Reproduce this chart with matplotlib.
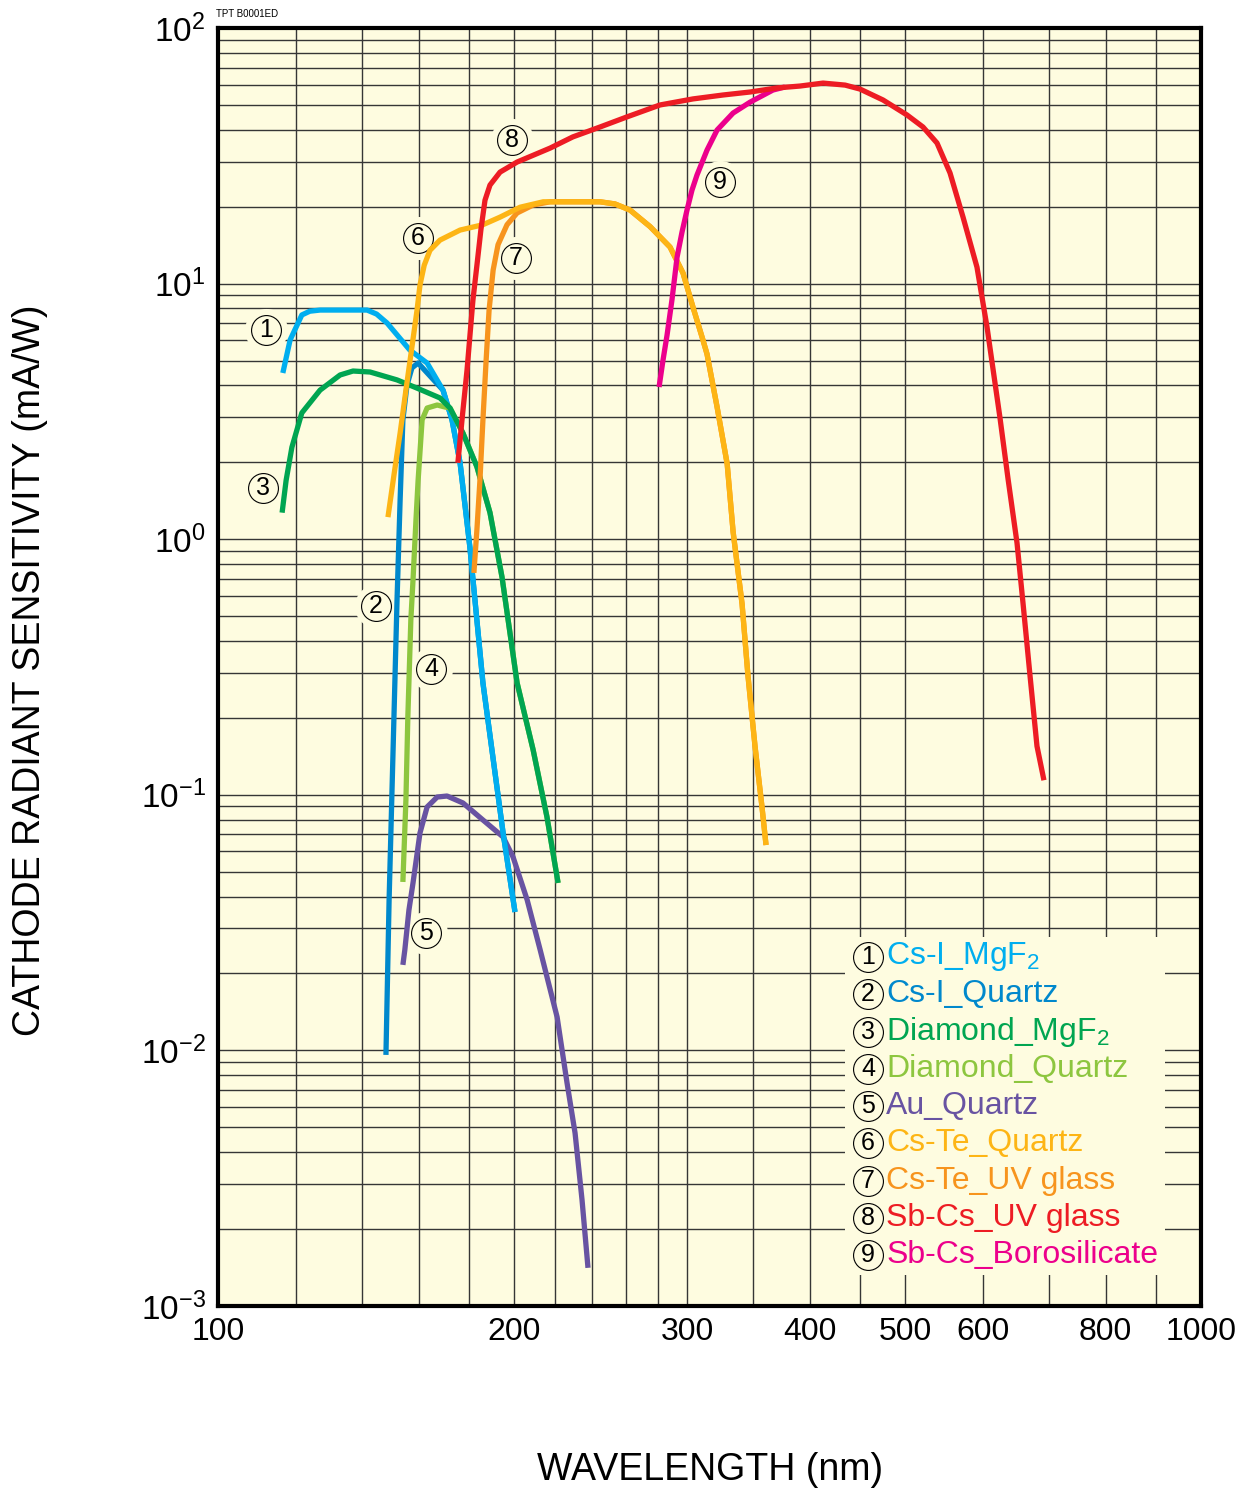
import numpy as np
import matplotlib
matplotlib.use("Agg")
import matplotlib.pyplot as plt
from matplotlib.patches import Rectangle
from matplotlib.ticker import FixedLocator, NullFormatter

plt.rcParams['font.family'] = ['Liberation Sans', 'DejaVu Sans']
plt.rcParams['mathtext.fontset'] = 'custom'
plt.rcParams['mathtext.rm'] = 'Liberation Sans'
plt.rcParams['mathtext.it'] = 'Liberation Sans'

CREAM = '#FEFCE0'

# ---- data (wavelength nm, radiant sensitivity mA/W) ----
wl1 = [116.4, 118.4, 121.7, 124.0, 127.0, 141.8, 145.0, 148.6, 156.7, 163.2, 169.4, 173.0, 176.3, 180.4, 186.0, 195.0, 200.5]
s1 = [4.47, 6.02, 7.54, 7.80, 7.88, 7.88, 7.60, 7.01, 5.50, 4.89, 3.83, 2.93, 1.99, 0.93, 0.274, 0.0709, 0.0348]

wl2 = [148.2, 149.3, 150.7, 152.1, 153.2, 154.2, 155.7, 157.5, 159.8] + wl1[10:]
s2 = [0.0096, 0.0388, 0.150, 0.578, 1.42, 2.93, 4.01, 4.68, 4.89] + s1[10:]

wl3 = [116.2, 117.3, 118.9, 121.7, 127.0, 133.1, 137.2, 142.8, 152.1, 159.4, 168.2, 172.2, 177.5, 183.4, 189.1, 194.5, 201.5, 209.2, 216.1, 221.8]
s3 = [1.27, 1.70, 2.29, 3.12, 3.83, 4.39, 4.55, 4.51, 4.20, 3.90, 3.57, 3.26, 2.60, 1.92, 1.27, 0.711, 0.274, 0.150, 0.0819, 0.0452]

wl4 = [154.2, 155.3, 156.0, 157.1, 157.9, 159.0, 159.8, 161.3, 163.2, 167.1, 170.2] + wl3[11:]
s4 = [0.0456, 0.0955, 0.2016, 0.483, 0.692, 1.19, 1.70, 2.93, 3.26, 3.35, 3.29] + s3[11:]

wl5 = [154.2, 154.9, 156.4, 157.9, 160.5, 163.2, 167.1, 171.0, 177.5, 186.0, 195.0, 199.6, 206.3, 212.7, 221.3, 226.5, 230.8, 234.6, 237.9]
s5 = [0.0216, 0.0247, 0.0354, 0.0452, 0.0709, 0.0896, 0.098, 0.0989, 0.0929, 0.0797, 0.0684, 0.0571, 0.0388, 0.0247, 0.0135, 0.00746, 0.00475, 0.0026, 0.00141]

wl6 = [148.9, 151.0, 153.2, 155.3, 157.5, 159.4, 160.5, 162.1, 164.3, 168.2, 176.3, 186.0, 193.6, 202.9, 214.2, 226.5,
       244.7, 253.4, 262.5, 275.2, 288.3, 297.2, 304.2, 311.4, 314.4, 321.9, 329.6, 334.2, 341.3, 346.0, 351.8, 357.6, 361.0]
s6 = [1.22, 1.78, 2.60, 3.83, 5.65, 7.88, 9.87, 11.8, 13.5, 14.8, 16.2, 17.0, 18.2, 19.9, 20.9, 20.9,
      20.9, 20.5, 19.4, 16.7, 13.9, 11.0, 8.10, 6.02, 5.30, 3.29, 1.97, 1.07, 0.558, 0.294, 0.155, 0.0896, 0.0636]

wl7 = [182.1, 183.4, 184.7, 186.0, 187.4, 188.7, 190.5, 192.7, 196.8, 201.5, 209.2, 217.7] + wl6[15:]
s7 = [0.738, 1.09, 1.70, 2.93, 5.02, 7.88, 11.3, 14.2, 17.0, 18.9, 20.3, 20.9] + s6[15:]

wl8 = [175.4, 177.1, 179.2, 181.7, 183.4, 185.1, 186.9, 189.1, 193.6, 201.5, 217.7, 229.6, 244.7, 260.6, 281.6,
       304.2, 326.4, 347.8, 370.5, 391.0, 412.6, 434.5, 449.9, 474.8, 502.2, 521.4, 538.8, 555.5, 572.7, 591.7,
       605.8, 624.5, 636.4, 649.9, 659.2, 669.9, 681.0, 692.2]
s8 = [1.99, 2.93, 4.59, 8.63, 11.8, 16.2, 21.2, 24.3, 27.3, 29.9, 33.9, 37.5, 41.0, 44.9, 50.0,
      52.8, 54.7, 56.2, 58.3, 59.3, 60.9, 59.8, 57.7, 52.3, 45.7, 41.0, 35.5, 27.1, 18.2, 11.6,
      6.76, 2.98, 1.72, 0.966, 0.558, 0.294, 0.155, 0.114]

wl9 = [281.0, 283.6, 286.3, 289.6, 293.1, 296.5, 300.0, 303.5, 307.1, 314.4, 321.9, 334.2, 347.8, 366.9, 377.4]
s9 = [3.94, 5.02, 6.29, 8.63, 12.7, 15.9, 19.4, 23.2, 26.6, 33.3, 39.9, 46.5, 51.3, 57.2, 58.8]

names = ['Cs-I_MgF$_2$', 'Cs-I_Quartz', 'Diamond_MgF$_2$', 'Diamond_Quartz', 'Au_Quartz',
         'Cs-Te_Quartz', 'Cs-Te_UV glass', 'Sb-Cs_UV glass', 'Sb-Cs_Borosilicate']
colors = ['#00AEEF', '#0088CC', '#00A551', '#8DC63F', '#6853A2',
          '#FDB515', '#F7941D', '#ED1C24', '#EC008C']
curves = [(wl1, s1), (wl2, s2), (wl3, s3), (wl4, s4), (wl5, s5),
          (wl6, s6), (wl7, s7), (wl8, s8), (wl9, s9)]

# circled number positions (wavelength, sensitivity)
mark_pos = [(111.9, 6.58), (144.8, 0.548), (111.1, 1.59), (164.7, 0.311), (162.8, 0.0288),
            (159.8, 15.1), (201.0, 12.6), (199.1, 36.5), (324.1, 25.0)]

xticks = [100, 200, 300, 400, 500, 600, 800, 1000]
xminor = [120, 140, 160, 180, 220, 240, 260, 280, 350, 450, 700, 900]
yticks = [1e-3, 1e-2, 1e-1, 1e0, 1e1, 1e2]
ylabels = [r'$10^{-3}$', r'$10^{-2}$', r'$10^{-1}$', r'$10^{0}$', r'$10^{1}$', r'$10^{2}$']

fig = plt.figure(figsize=(12.5, 14.91), dpi=100)
ax = fig.add_axes([0.1744, 0.1241, 0.7864, 0.8571])
ax.set_facecolor(CREAM)
ax.set_xscale('log')
ax.set_yscale('log')
ax.set_xlim(100, 1000)
ax.set_ylim(1e-3, 1e2)

ax.xaxis.set_major_locator(FixedLocator(xticks))
ax.xaxis.set_minor_locator(FixedLocator(xminor))
ax.set_xticklabels([str(t) for t in xticks])
ax.xaxis.set_minor_formatter(NullFormatter())
ax.yaxis.set_major_locator(FixedLocator(yticks))
ymin = [m * 10.0 ** e for e in range(-3, 2) for m in range(2, 10)]
ax.yaxis.set_minor_locator(FixedLocator(ymin))
ax.set_yticklabels(ylabels)
ax.yaxis.set_minor_formatter(NullFormatter())
ax.tick_params(which='both', length=0)
ax.tick_params(axis='x', labelsize=23, pad=8)
ax.tick_params(axis='y', labelsize=24, pad=9)

ax.set_axisbelow(True)
ax.grid(which='both', color='#363636', lw=1.0)
for sp in ax.spines.values():
    sp.set_linewidth(3)
    sp.set_zorder(10)

# draw order so merged curves sit like the original
order = [4, 1, 0, 3, 2, 6, 5, 8, 7]
for n, i in enumerate(order):
    wl, s = curves[i]
    ax.plot(wl, s, color=colors[i], lw=3.8, solid_capstyle='butt',
            solid_joinstyle='round', zorder=3 + n * 0.01)

for k, (xw, ys) in enumerate(mark_pos):
    ax.plot(xw, ys, 'o', ms=31, mfc=CREAM, mec='none', zorder=2.5)
    ax.plot(xw, ys, 'o', ms=21.5, mfc=CREAM, mec='black', mew=0.8, zorder=2.6)
    ax.text(xw, ys, str(k + 1), ha='center', va='center', fontsize=18, zorder=2.7)

# legend block
ax.add_patch(Rectangle((0.638, 0.024), 0.325, 0.2645, transform=ax.transAxes,
                       fc=CREAM, ec='none', zorder=5))
for k, name in enumerate(names):
    yy = 0.2731 - k * 0.02919
    ax.plot(0.6612, yy, 'o', ms=21.5, mfc=CREAM, mec='black', mew=0.8,
            transform=ax.transAxes, zorder=6, clip_on=False)
    ax.text(0.6612, yy, str(k + 1), ha='center', va='center', fontsize=18,
            transform=ax.transAxes, zorder=7)
    ax.text(0.6796, yy, name, ha='left', va='center', fontsize=23, color=colors[k],
            transform=ax.transAxes, zorder=7)

fig.text(0.024, 0.5507, 'CATHODE RADIANT SENSITIVITY (mA/W)', rotation=90,
         ha='center', va='center', fontsize=27)
fig.text(0.568, 0.0141, 'WAVELENGTH (nm)', ha='center', va='center', fontsize=27)
fig.text(0.173, 0.9906, 'TPT B0001ED', ha='left', va='center', fontsize=7)

fig.savefig('out.png', dpi=100, facecolor='white')
